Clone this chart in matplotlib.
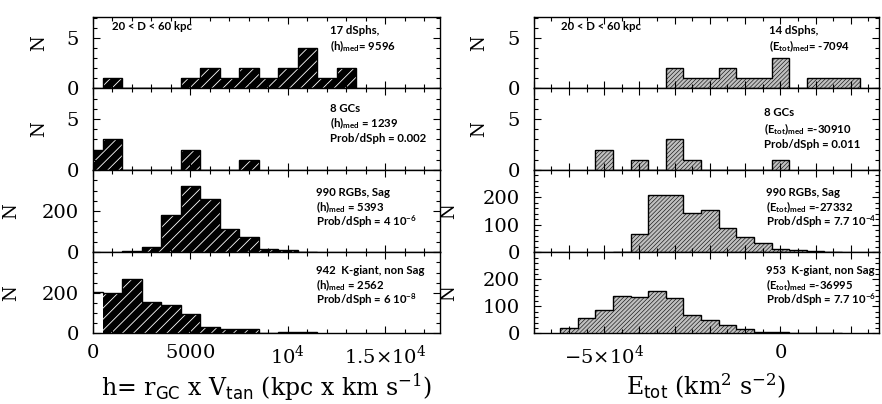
import matplotlib
matplotlib.use('Agg')
import matplotlib.pyplot as plt
import numpy as np
from matplotlib.ticker import MultipleLocator, FixedLocator, FuncFormatter

# ---------------- data ----------------
# left column: h = r_GC x V_tan, bins of width 1000
h_dsph_start, h_dsph = 500, [1, 0, 0, 0, 1, 2, 1, 2, 1, 2, 4, 1, 2]
h_gc_start, h_gc = -500, [2, 3, 0, 0, 0, 2, 0, 0, 1]
h_rgb_start, h_rgb = 1500, [5, 24, 182, 324, 258, 114, 72, 16, 10, 3]
h_kg_start, h_kg = -500, [202, 198, 268, 157, 140, 95, 31, 22, 19, 3, 7, 6]
h_binw = 1000

# right column: E_tot, bins of width 5000
e_dsph_start, e_dsph = -32500, [2, 1, 1, 2, 1, 1, 3, 0, 1, 1, 1]
e_gc_start, e_gc = -52500, [2, 0, 1, 0, 3, 1, 0, 0, 0, 0, 1]
e_rgb_start, e_rgb = -47500, [2, 65, 208, 208, 145, 153, 90, 55, 35, 12, 8, 4, 1]
e_kg_start, e_kg = -62500, [19, 56, 85, 140, 136, 156, 131, 69, 48, 31, 16, 6, 3, 1, 0, 1]
e_binw = 5000

left_xticks = [0, 5000, 10000, 15000]
left_xticklabels = ['$0$', '$5000$', '$10^4$', '$1.5{\\times}10^4$']
right_xticks = [-50000, 0]
right_xticklabels = ['$-5{\\times}10^4$', '$0$']

left_notes = [
    ["17 dSphs,", "(h)$_{\\mathrm{med}}$= 9596"],
    ["8 GCs", "(h)$_{\\mathrm{med}}$ = 1239", "Prob/dSph = 0.002"],
    ["990 RGBs, Sag", "(h)$_{\\mathrm{med}}$ = 5393", "Prob/dSph = 4 10$^{\\mathrm{-6}}$"],
    ["942  K-giant, non Sag", "(h)$_{\\mathrm{med}}$ = 2562", "Prob/dSph = 6 10$^{\\mathrm{-8}}$"],
]
right_notes = [
    ["14 dSphs,", "(E$_{\\mathrm{tot}}$)$_{\\mathrm{med}}$= -7094"],
    ["8 GCs", "(E$_{\\mathrm{tot}}$)$_{\\mathrm{med}}$ =-30910", "Prob/dSph = 0.011"],
    ["990 RGBs, Sag", "(E$_{\\mathrm{tot}}$)$_{\\mathrm{med}}$ =-27332", "Prob/dSph = 7.7 10$^{\\mathrm{-4}}$"],
    ["953  K-giant, non Sag", "(E$_{\\mathrm{tot}}$)$_{\\mathrm{med}}$ =-36995", "Prob/dSph = 7.7 10$^{\\mathrm{-6}}$"],
]
region_text = "20 < D < 60 kpc"

# ---------------- style ----------------
plt.rcParams['font.family'] = ['DejaVu Serif']
plt.rcParams['mathtext.fontset'] = 'dejavuserif'
plt.rcParams['mathtext.rm'] = 'Lato:bold'
plt.rcParams['mathtext.it'] = 'Lato:bold'
plt.rcParams['mathtext.bf'] = 'Lato:bold'
plt.rcParams['mathtext.sf'] = 'Lato:bold'

W, H = 882, 404
fig = plt.figure(figsize=(W / 100, H / 100), dpi=100)


def ax_at(x0, x1, y0, y1):
    return fig.add_axes([x0 / W, 1 - y1 / H, (x1 - x0) / W, (y1 - y0) / H])


rows = [(16.7, 88.3), (88.3, 170.0), (170.0, 252.3), (252.3, 333.3)]
LX = (93.0, 440.0)
RX = (533.7, 879.0)
TICKFS = 14
LABFS = 17


def style_axes(ax):
    ax.tick_params(which='both', direction='in', top=True, right=True,
                   labelsize=TICKFS, width=0.8)
    ax.tick_params(axis='x', pad=8)
    ax.tick_params(axis='y', pad=10)
    ax.tick_params(which='major', length=5.2)
    ax.tick_params(which='minor', length=2.8)
    for s in ax.spines.values():
        s.set_linewidth(1.0)


def draw_hist(ax, start, counts, binw, face, hatchcol, hatch, hlw, skip_fill=0):
    counts = np.asarray(counts, dtype=float)
    edges = start + binw * np.arange(len(counts) + 1)
    plt.rcParams['hatch.linewidth'] = hlw
    fc = counts.copy()
    fc[:skip_fill] = 0
    ax.bar(edges[:-1], fc, width=binw, align='edge', color=face,
           edgecolor=hatchcol, hatch=hatch, linewidth=0, zorder=1)
    ax.stairs(counts, edges, color='black', linewidth=1.0, baseline=0, zorder=2)


def ylab_fmt(labels):
    return FuncFormatter(lambda v, p: labels.get(int(round(v)), ''))


left_data = [(h_dsph_start, h_dsph), (h_gc_start, h_gc), (h_rgb_start, h_rgb), (h_kg_start, h_kg)]
right_data = [(e_dsph_start, e_dsph), (e_gc_start, e_gc), (e_rgb_start, e_rgb), (e_kg_start, e_kg)]

left_ylims = [7.15, 8, 400, 400]
right_ylims = [7.15, 8, 300, 300]

# ---------- left column ----------
for i, (st, cn) in enumerate(left_data):
    ax = ax_at(LX[0], LX[1], *rows[i])
    draw_hist(ax, st, cn, h_binw, 'black', 'white', '///', 0.6,
              skip_fill=1 if i == 3 else 0)
    ax.set_xlim(0, 17800)
    ax.set_ylim(0, left_ylims[i])
    ax.xaxis.set_major_locator(FixedLocator(left_xticks))
    ax.xaxis.set_minor_locator(MultipleLocator(1000))
    if i < 2:
        ax.yaxis.set_major_locator(FixedLocator([0, 5]))
        ax.yaxis.set_minor_locator(MultipleLocator(1))
        ax.yaxis.set_major_formatter(ylab_fmt({0: '0', 5: '5'}))
        lx = 48
    else:
        ax.yaxis.set_major_locator(FixedLocator([0, 200, 400]))
        ax.yaxis.set_minor_locator(MultipleLocator(50))
        ax.yaxis.set_major_formatter(ylab_fmt({0: '0', 200: '200'}))
        lx = 20
    style_axes(ax)
    if i == 3:
        ax.set_xticklabels(left_xticklabels)
        ax.set_xlabel('h= r$_{\\mathsf{GC}}$ x V$_{\\mathsf{tan}}$ (kpc x km s$^{-1}$)',
                      fontsize=LABFS, labelpad=3)
    else:
        ax.tick_params(labelbottom=False)
    ax.set_ylabel('N', fontsize=13)
    ylab_y = 0.633 if i == 0 else 0.5
    ax.yaxis.set_label_coords((lx - LX[0]) / (LX[1] - LX[0]), ylab_y)

# ---------- right column ----------
for i, (st, cn) in enumerate(right_data):
    ax = ax_at(RX[0], RX[1], *rows[i])
    draw_hist(ax, st, cn, e_binw, '#c0c0c0', '#111111', '////////', 0.45)
    ax.set_xlim(-70000, 28000)
    ax.set_ylim(0, right_ylims[i])
    ax.xaxis.set_major_locator(FixedLocator(list(range(-70000, 28001, 10000))))
    ax.xaxis.set_minor_locator(MultipleLocator(5000))
    if i < 2:
        ax.yaxis.set_major_locator(FixedLocator([0, 5]))
        ax.yaxis.set_minor_locator(MultipleLocator(1))
        ax.yaxis.set_major_formatter(ylab_fmt({0: '0', 5: '5'}))
        lx = 488
    else:
        ax.yaxis.set_major_locator(FixedLocator([0, 100, 200, 300]))
        ax.yaxis.set_minor_locator(MultipleLocator(20))
        ax.yaxis.set_major_formatter(ylab_fmt({0: '0', 100: '100', 200: '200'}))
        lx = 458
    style_axes(ax)
    if i == 3:
        labs = dict(zip(right_xticks, right_xticklabels))
        ax.xaxis.set_major_formatter(FuncFormatter(lambda v, p: labs.get(int(v), '')))
        ax.set_xlabel('E$_{\\mathsf{tot}}$ (km$^2$ s$^{-2}$)', fontsize=LABFS, labelpad=3)
    else:
        ax.tick_params(labelbottom=False)
    ax.set_ylabel('N', fontsize=13)
    ylab_y = 0.633 if i == 0 else 0.5
    ax.yaxis.set_label_coords((lx - RX[0]) / (RX[1] - RX[0]), ylab_y)

# ---------- annotations ----------
NOTEFS = 8.2


def note(x, y, s):
    fig.text(x / W, 1 - y / H, s, ha='left', va='center', fontsize=NOTEFS,
             family='Lato', weight='bold', math_fontfamily='custom')


note(112, 27, region_text)
note(561, 27, region_text)

left_pos = [(330, [30, 46]), (330, [108, 123, 138]), (316, [193, 207, 222]), (316, [270, 285, 300])]
right_pos = [(769, [30, 46]), (764, [113, 129, 145]), (766, [193, 207, 222]), (766, [270, 285, 300])]
for (x, ys), lines in zip(left_pos, left_notes):
    for y, s in zip(ys, lines):
        note(x, y, s)
for (x, ys), lines in zip(right_pos, right_notes):
    for y, s in zip(ys, lines):
        note(x, y, s)

fig.savefig('out.png', dpi=100)
